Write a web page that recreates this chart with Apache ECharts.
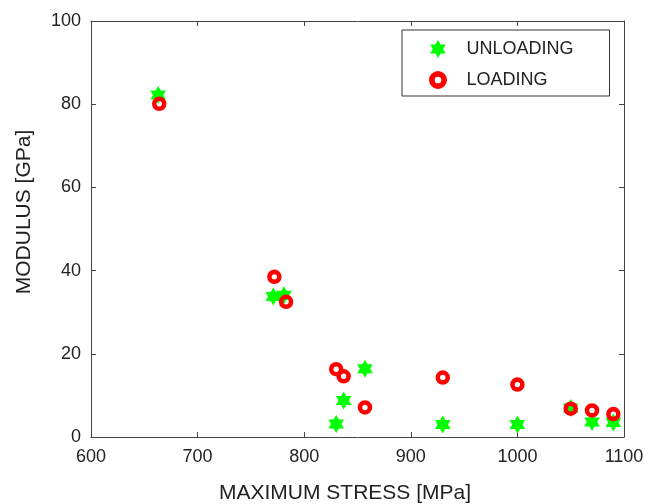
<!DOCTYPE html>
<html>
<head>
<meta charset="utf-8">
<script src="https://cdn.jsdelivr.net/npm/echarts@6/dist/echarts.min.js"></script>
<style>
html,body{margin:0;padding:0;background:#fff;}
#chart{width:645px;height:504px;}
</style>
</head>
<body>
<div id="chart"></div>
<script>
// Data
var seriesNames = ['UNLOADING', 'LOADING'];
var unloadingStress = [663, 771, 781, 830, 837, 857, 930, 1000, 1050, 1070, 1090];
var unloadingModulus = [82.2, 33.8, 34.1, 3.1, 8.8, 16.4, 3.0, 3.0, 7.0, 3.6, 3.5];
var loadingStress = [664, 772, 783, 830, 837, 857, 930, 1000, 1050, 1070, 1090];
var loadingModulus = [80.1, 38.5, 32.5, 16.3, 14.6, 7.1, 14.3, 12.6, 6.8, 6.4, 5.5];
var xTicks = [600, 700, 800, 900, 1000, 1100];
var yTicks = [0, 20, 40, 60, 80, 100];

function pairs(xs, ys) {
  return xs.map(function (x, i) { return [x, ys[i]]; });
}

var starPath = 'path://M0,-10L2.887,-5L8.66,-5L5.774,0L8.66,5L2.887,5L0,10L-2.887,5L-8.66,5L-5.774,0L-8.66,-5L-2.887,-5Z';
var ringPath = 'path://M0,-7A7,7,0,1,1,0,7A7,7,0,1,1,0,-7ZM0,-2.6A2.6,2.6,0,1,0,0,2.6A2.6,2.6,0,1,0,0,-2.6Z';

var axisColor = '#444';
var labelColor = '#222';
var fontFamily = '"Liberation Sans", Arial, Helvetica, sans-serif';
function plain(v) { return String(v); }

function xAxisCfg(pos, showLabel, name) {
  return {
    type: 'value', position: pos,
    min: xTicks[0], max: xTicks[xTicks.length - 1], interval: 100,
    name: name || '', nameLocation: 'middle', nameGap: 46,
    nameTextStyle: { fontSize: 21, color: labelColor, fontFamily: fontFamily, padding: [0, 25, 0, 0] },
    axisLine: { show: true, onZero: false, lineStyle: { color: axisColor, width: 1 } },
    axisTick: { show: true, inside: true, length: 5, lineStyle: { color: axisColor } },
    axisLabel: { show: showLabel, fontSize: 18, color: labelColor, fontFamily: fontFamily, margin: 11, formatter: plain },
    splitLine: { show: false }
  };
}
function yAxisCfg(pos, showLabel, name) {
  return {
    type: 'value', position: pos,
    min: yTicks[0], max: yTicks[yTicks.length - 1], interval: 20,
    name: name || '', nameLocation: 'middle', nameGap: 56,
    nameTextStyle: { fontSize: 21, color: labelColor, fontFamily: fontFamily, padding: [0, 0, 0, 34] },
    axisLine: { show: true, onZero: false, lineStyle: { color: axisColor, width: 1 } },
    axisTick: { show: true, inside: true, length: 5, lineStyle: { color: axisColor } },
    axisLabel: { show: showLabel, fontSize: 18, color: labelColor, fontFamily: fontFamily, margin: 10, formatter: plain },
    splitLine: { show: false }
  };
}

var chart = echarts.init(document.getElementById('chart'), null, { renderer: 'canvas' });
chart.setOption({
  animation: false,
  backgroundColor: '#fff',
  grid: { left: 91, right: 21, top: 21, bottom: 67, containLabel: false, outerBoundsMode: 'none' },
  xAxis: [xAxisCfg('bottom', true, 'MAXIMUM STRESS [MPa]'), xAxisCfg('top', false)],
  yAxis: [yAxisCfg('left', true, 'MODULUS [GPa]'), yAxisCfg('right', false)],
  legend: {
    orient: 'vertical', left: 402, top: 30,
    backgroundColor: '#fff',
    borderColor: '#333', borderWidth: 1,
    padding: [10, 36, 7, 27],
    itemGap: 13, itemWidth: 19, itemHeight: 18,
    textStyle: { fontSize: 18, color: labelColor, fontFamily: fontFamily, padding: [0, 0, 0, 14] },
    data: seriesNames
  },
  series: [
    {
      name: seriesNames[0], type: 'scatter',
      xAxisIndex: 0, yAxisIndex: 0,
      symbol: starPath, symbolKeepAspect: true, symbolSize: 18,
      itemStyle: { color: '#00ff00', opacity: 1 },
      data: pairs(unloadingStress, unloadingModulus)
    },
    {
      name: seriesNames[1], type: 'scatter',
      xAxisIndex: 0, yAxisIndex: 0,
      symbol: ringPath, symbolKeepAspect: true, symbolSize: 14.5,
      itemStyle: { color: '#ff0000', opacity: 1 },
      data: pairs(loadingStress, loadingModulus)
    }
  ]
});
</script>
</body>
</html>
